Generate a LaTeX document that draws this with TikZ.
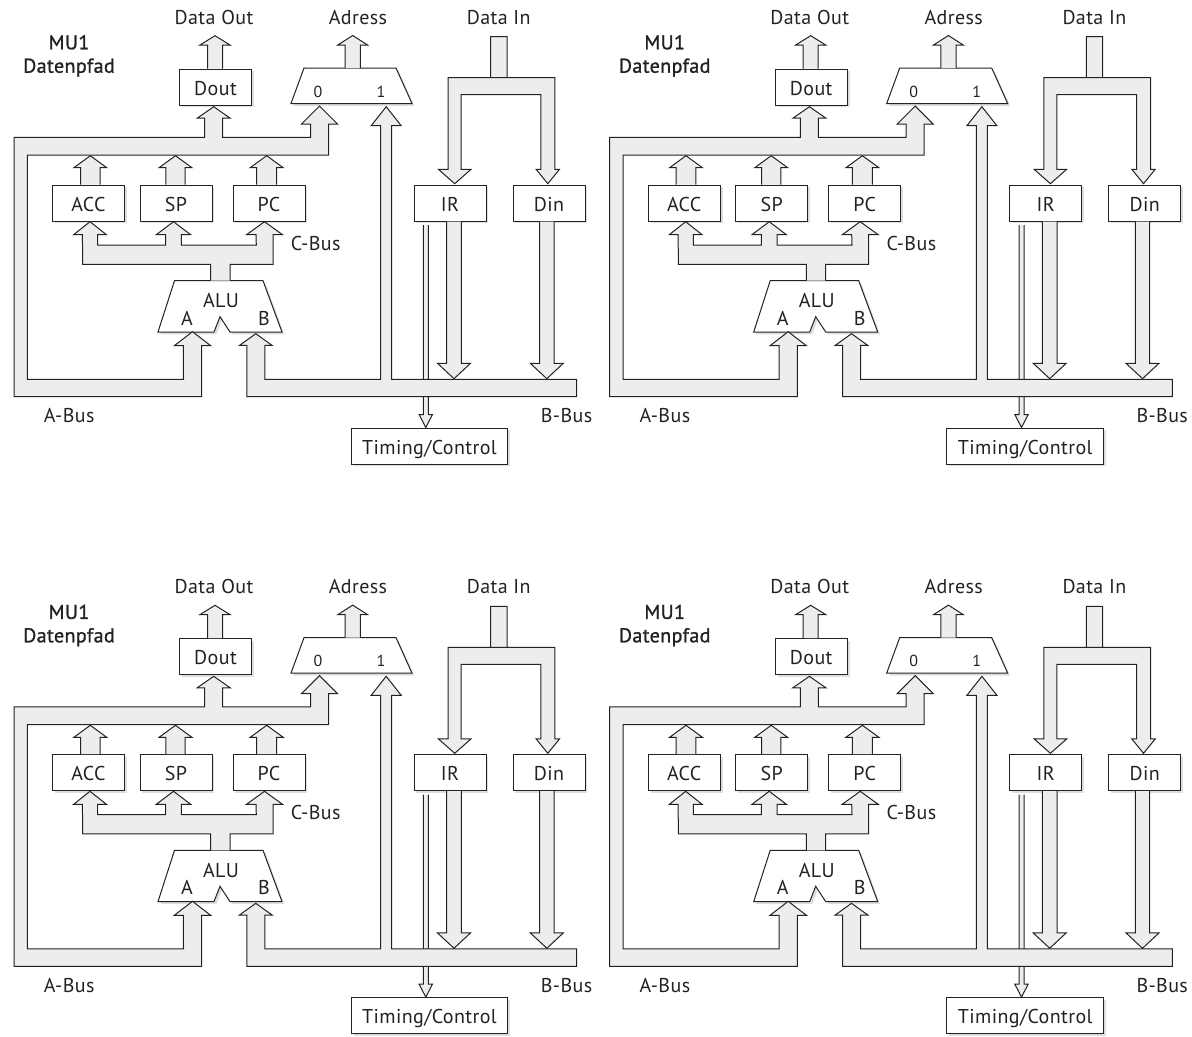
\documentclass[tikz,border=0pt]{standalone}
\usepackage{fontspec}
\setmainfont[LetterSpace=2]{PT Sans}
\newfontface\titlefont[LetterSpace=2,FakeBold=1.2]{PT Sans}
\usetikzlibrary{calc,shadows}

\definecolor{busgray}{HTML}{EDEDED}
\definecolor{inkgray}{HTML}{222222}

\tikzset{
    softshadow/.style = {drop shadow={shadow xshift=1.8pt, shadow yshift=-1.8pt, fill=black, opacity=.13}},
    reg/.style = {rectangle, draw=inkgray, fill=white, line width=.75pt, minimum width=54pt, minimum height=27pt,
                  inner sep=0pt, text height=12pt, text depth=0pt, softshadow},
    unit/.style = {draw=inkgray, fill=white, line width=.75pt, softshadow},
    lab/.style = {anchor=base, inner sep=0pt},
    titletext/.style = {lab, font=\fontsize{15pt}{18pt}\titlefont},
    digit/.style = {lab, font=\fontsize{12pt}{14pt}\selectfont},
    bus/.style = {draw=inkgray, fill=busgray, line width=.75pt, line join=miter}
}

% head of a block arrow: tip, half shaft, half head, length
\newcommand{\head}[4]{-- ($(#1)+(-#2,#4)$) -- ($(#1)+(-#3,#4)$) -- (#1) -- ($(#1)+(#3,#4)$) -- ($(#1)+(#2,#4)$)}
% straight block arrow: start, tip, half shaft, half head, length
\newcommand{\blockarrow}[5]{\draw[bus] ($(#1)+(-#3,0)$) \head{#2}{#3}{#4}{#5} -- ($(#1)+(#3,0)$);}

\begin{document}
\begin{tikzpicture}[x=.75pt, y=-.75pt, font=\fontsize{15pt}{18pt}\selectfont, text=inkgray]
    \useasboundingbox (0,0) rectangle (1192,1036);

    \foreach \n/\dx/\dy in {a/0/0, b/595.7/0, c/0/569.6, d/595.7/569.6} {
    \begin{scope}[shift={(\dx,\dy)}, name prefix=\n-]
        % registers
        \node[reg] (dout) at (215.5,87) {Dout};
        \node[reg] (acc) at (88.5,203) {ACC};
        \node[reg] (sp) at (176,203) {SP};
        \node[reg] (pc) at (269,203) {PC};
        \node[reg] (ir) at (450,203) {IR};
        \node[reg] (din) at (549,203) {Din};
        \node[reg, minimum width=117.5pt] (timing) at (429.5,446) {Timing/Control};

        % multiplexer and ALU outlines
        \draw[unit] (304,68) -- (396,68) -- (412,103.5) -- (291,103.5) -- cycle;
        \draw[unit] (174.5,280.7) -- (263,280.7) -- (282,332) -- (230,332)
            -- (220,316.7) -- (214,332) -- (158,332) -- cycle;

        % texts
        \node[lab] (dataout) at (214,24) {Data Out};
        \node[lab] (adress) at (358,24) {Adress};
        \node[lab] (datain) at (498.7,24) {Data In};
        \node[titletext] (title) at (69,49.3) {MU1};
        \node[titletext] (subtitle) at (69,72.7) {Datenpfad};
        \node[digit] (muxzero) at (318,97.3) {0};
        \node[digit] (muxone) at (381,97.3) {1};
        \node[lab] (alu) at (221,307.7) {ALU};
        \node[lab] (alua) at (187,325) {A};
        \node[lab] (alub) at (264,325) {B};
        \node[lab] (cbus) at (315.7,250) {C-Bus};
        \node[lab] (abus) at (69.2,422.7) {A-Bus};
        \node[lab] (bbus) at (566.5,422.7) {B-Bus};

        % arrow tips at the units
        \coordinate (muxtop) at (352.7,68);
        \coordinate (douttip) at (215,35.7);
        \coordinate (adresstip) at (352.7,35.5);
        \coordinate (doutin) at (213.7,106.7);
        \coordinate (muxin) at (319.5,106);
        \coordinate (muxonein) at (386.2,106.7);
        \coordinate (aluain) at (192.5,331.7);
        \coordinate (alubin) at (255.8,333.7);
        \coordinate (acctop) at (90.3,155.7);
        \coordinate (sptop) at (175.5,155.7);
        \coordinate (pctop) at (266.7,155.7);
        \coordinate (accin) at (90,221.7);
        \coordinate (spin) at (173.5,221.7);
        \coordinate (pcin) at (264.5,221.7);
        \coordinate (irin) at (454.7,183.7);
        \coordinate (dinin) at (547.8,183.7);
        \coordinate (irout) at (454,378.7);
        \coordinate (dinout) at (546.8,378.7);
        \coordinate (ctlstart) at (425.8,225);

        % straight arrows
        \blockarrow{dout.north -| douttip}{douttip}{7.5}{15}{9.3}
        \blockarrow{muxtop}{adresstip}{7.6}{14.8}{9.5}
        \blockarrow{acc.north -| acctop}{acctop}{9.8}{16.4}{12}
        \blockarrow{sp.north -| sptop}{sptop}{9.7}{16.4}{12}
        \blockarrow{pc.north -| pctop}{pctop}{10}{16.5}{12}
        \blockarrow{ir.south -| irout}{irout}{7.3}{16.5}{-15.4}
        \blockarrow{din.south -| dinout}{dinout}{7.2}{16.5}{-15.4}
        \blockarrow{ctlstart}{timing.north -| ctlstart}{2.5}{6.7}{-13}

        % A-Bus
        \draw[bus] (14,137.3) -- (204.7,137.3) \head{doutin}{9}{16.5}{11.5} -- (222.7,137.3) -- (310.5,137.3)
            \head{muxin}{9}{18}{18} -- (328.5,155) -- (27.3,155) -- (27.3,379.3) -- (183.5,379.3)
            \head{aluain}{9.1}{18.2}{14} -- (201.6,396.7) -- (14,396.7) -- cycle;
        % B-Bus
        \draw[bus] (246.8,396.7) \head{alubin}{9}{16.3}{11.7} -- (264.8,379.3) -- (380.7,379.3)
            \head{muxonein}{5.5}{15}{19} -- (391.7,379.3) -- (576.7,379.3) -- (576.7,396.7) -- cycle;
        % C-Bus
        \draw[bus] (210.7,280.7) -- (210.7,264.3) -- (82.7,264.3) \head{accin}{7.6}{16.4}{13} -- (97.6,245)
            -- (165.7,245) \head{spin}{7.8}{17.2}{13} -- (181.3,245) -- (256.3,245) \head{pcin}{8.5}{18}{13} -- (273,264.3)
            -- (230,264.3) -- (230,280.7);
        % Data In
        \draw[bus] (490.7,36.7) -- (490.7,77.7) -- (554.9,77.7) \head{dinin}{-7}{-11.7}{-14.4} -- (540.8,94.7)
            -- (461.2,94.7) \head{irin}{-6.5}{-16.3}{-14.4} -- (448.2,77.7) -- (507,77.7) -- (507,36.7) -- cycle;
    \end{scope}
    }
\end{tikzpicture}
\end{document}
